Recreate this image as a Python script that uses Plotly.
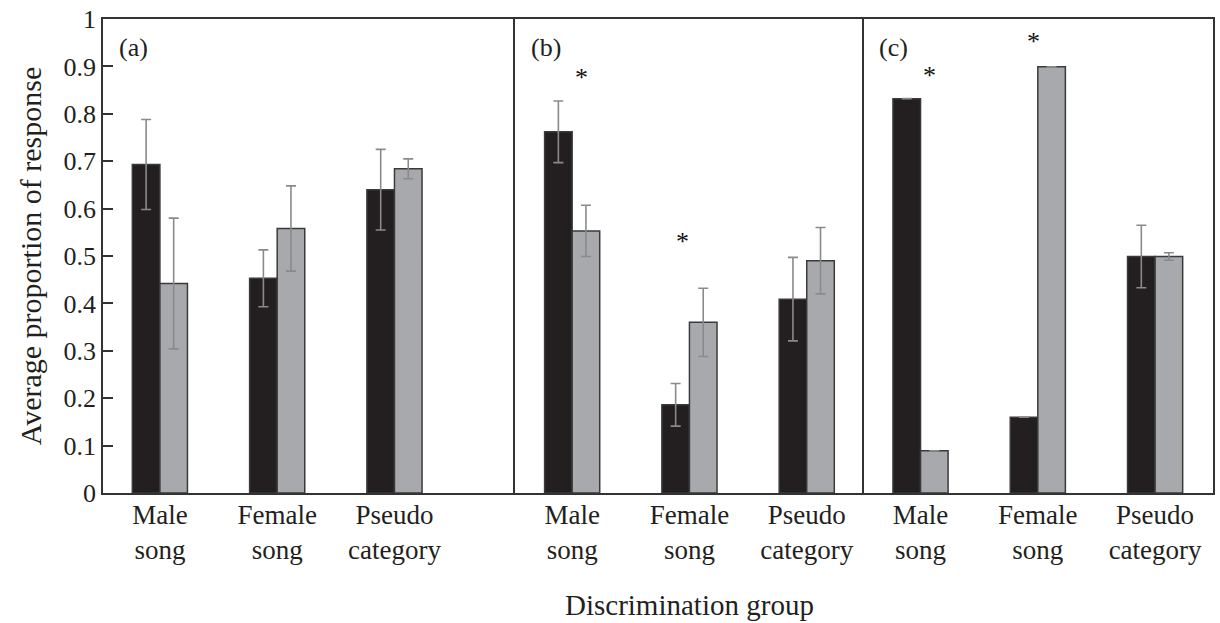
import plotly.graph_objects as go
from plotly.subplots import make_subplots

# Category groups shown in each of the three panels
categories = ["Male<br>song", "Female<br>song", "Pseudo<br>category"]
panel_labels = ["(a)", "(b)", "(c)"]

# Mean proportion of response (dark bars) per panel
dark_means = [
    [0.693, 0.453, 0.640],
    [0.762, 0.186, 0.409],
    [0.832, 0.160, 0.499],
]
dark_errors = [
    [0.095, 0.060, 0.085],
    [0.065, 0.045, 0.088],
    [None, None, 0.066],
]

# Mean proportion of response (grey bars) per panel
grey_means = [
    [0.442, 0.558, 0.684],
    [0.553, 0.360, 0.490],
    [0.089, 0.899, 0.499],
]
grey_errors = [
    [0.138, 0.090, 0.021],
    [0.054, 0.072, 0.070],
    [None, None, 0.008],
]

# Significance markers: (panel index, group index, offset within group, height)
significance = [
    (1, 0, 0.08, 0.876),
    (1, 1, -0.06, 0.530),
    (2, 0, 0.08, 0.880),
    (2, 1, -0.04, 0.953),
]

y_ticks = [round(0.1 * i, 1) for i in range(11)]
y_tick_text = ["0", "0.1", "0.2", "0.3", "0.4", "0.5", "0.6", "0.7", "0.8", "0.9", "1"]

FONT = "Liberation Serif"
TEXT = "#231f20"
DARK = "#231f20"
GREY = "#a7a9ac"
EDGE = "#3a3a3a"
ERR = "#8a8a8a"
FRAME = "#333333"

fig = make_subplots(rows=1, cols=3, shared_yaxes=False, horizontal_spacing=0)

positions = list(range(len(categories)))
for p in range(3):
    col = p + 1
    fig.add_trace(go.Bar(
        x=positions, y=dark_means[p], name="dark",
        marker=dict(color=DARK, line=dict(color=EDGE, width=1.5)),
        error_y=dict(type="data", array=dark_errors[p], visible=True,
                     color=ERR, thickness=1.6, width=5),
        showlegend=False,
    ), row=1, col=col)
    fig.add_trace(go.Bar(
        x=positions, y=grey_means[p], name="grey",
        marker=dict(color=GREY, line=dict(color=EDGE, width=1.5)),
        error_y=dict(type="data", array=grey_errors[p], visible=True,
                     color=ERR, thickness=1.6, width=5),
        showlegend=False,
    ), row=1, col=col)

# Panel widths along the shared frame
left_px, right_px = 103, 1215
splits = [103, 516, 865, 1215]
total = right_px - left_px
domains = [((splits[i] - left_px) / total, (splits[i + 1] - left_px) / total) for i in range(3)]
unit_px = 117.5
first_offset_px = 57

for i in range(3):
    width_px = splits[i + 1] - splits[i]
    lo = -first_offset_px / unit_px
    hi = lo + width_px / unit_px
    fig.update_xaxes(
        domain=list(domains[i]), range=[lo, hi],
        tickmode="array", tickvals=positions, ticktext=categories,
        ticks="", showline=True, mirror=True, linecolor=FRAME, linewidth=1.6,
        showgrid=False, zeroline=False, fixedrange=True,
        ticklabelstandoff=-3,
        tickfont=dict(family=FONT, size=27, color=TEXT),
        row=1, col=i + 1,
    )
    fig.update_yaxes(
        range=[0, 1], showgrid=False, zeroline=False,
        linecolor=FRAME, linewidth=1.6,
        row=1, col=i + 1,
    )

# Each vertical frame line is drawn once: left of (a), left of (b), both sides of (c)
fig.update_yaxes(
    showline=True, mirror=False,
    tickmode="array", tickvals=y_ticks, ticktext=y_tick_text,
    ticks="inside", ticklen=10, tickwidth=1.5, tickcolor=FRAME,
    tickfont=dict(family=FONT, size=26, color=TEXT),
    row=1, col=1,
)
fig.update_yaxes(showline=True, mirror=False, showticklabels=False, ticks="", row=1, col=2)
fig.update_yaxes(showline=True, mirror=True, showticklabels=False, ticks="", row=1, col=3)

annotations = []
axis_names = ["x", "x2", "x3"]
yaxis_names = ["y", "y2", "y3"]
for i, label in enumerate(panel_labels):
    annotations.append(dict(
        x=-0.37, y=0.94, xref=axis_names[i], yref=yaxis_names[i],
        text=label, showarrow=False, xanchor="left", yanchor="middle",
        font=dict(family=FONT, size=26, color=TEXT),
    ))
for p, g, off, h in significance:
    annotations.append(dict(
        x=positions[g] + off, y=h, xref=axis_names[p], yref=yaxis_names[p],
        text="*", showarrow=False, xanchor="center", yanchor="middle",
        font=dict(family=FONT, size=26, color="#111"),
    ))
annotations.append(dict(
    x=-0.0655, y=0.5, xref="paper", yref="paper", text="Average proportion of response",
    textangle=-90, showarrow=False, xanchor="center", yanchor="middle",
    font=dict(family=FONT, size=30, color=TEXT),
))
annotations.append(dict(
    x=0.528, y=-0.236, xref="paper", yref="paper", text="Discrimination group",
    showarrow=False, xanchor="center", yanchor="middle",
    font=dict(family=FONT, size=29, color=TEXT),
))

fig.update_layout(
    width=1220, height=623,
    margin=dict(l=103, r=5, t=18, b=130),
    barmode="group", bargap=0.53, bargroupgap=0,
    plot_bgcolor="white", paper_bgcolor="white",
    annotations=annotations,
)

fig.write_html("out.html")
